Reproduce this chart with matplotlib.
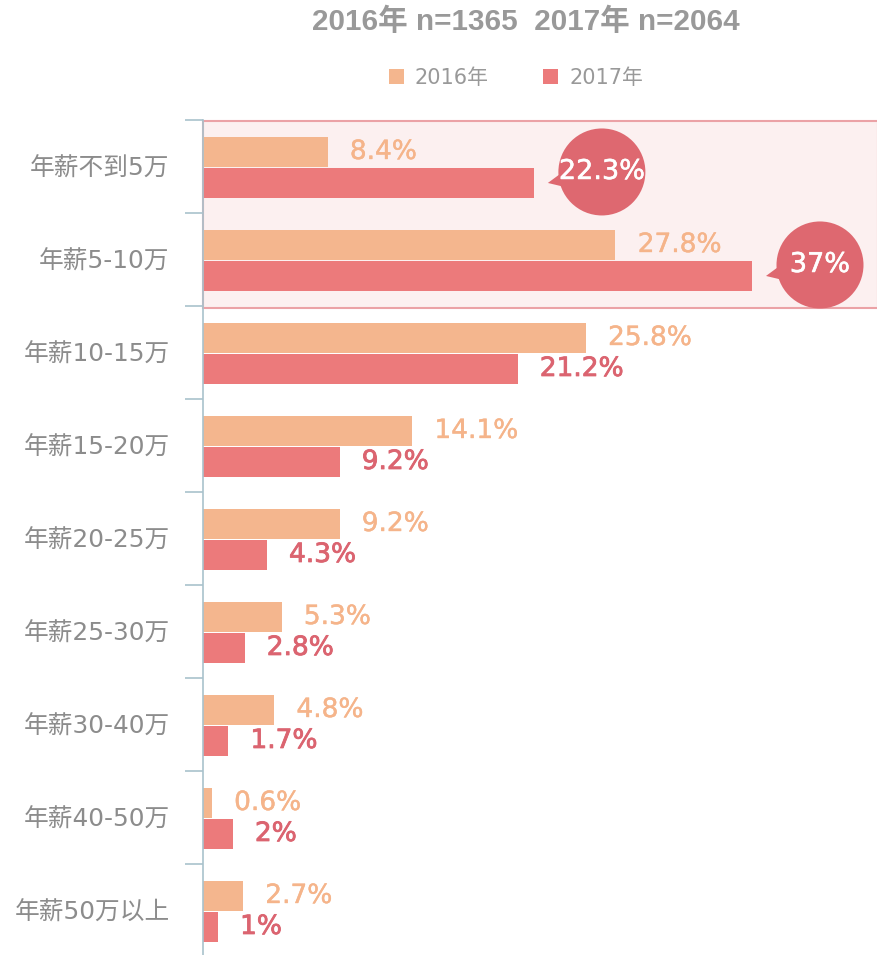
import numpy as np
import matplotlib
matplotlib.use("Agg")
import matplotlib.pyplot as plt
import matplotlib.patheffects as pe
from matplotlib.patches import Rectangle, Circle, Polygon
from matplotlib.transforms import IdentityTransform

plt.rcParams['font.family'] = ['DejaVu Sans', 'Noto Sans CJK SC']

categories = ['年薪不到5万', '年薪5-10万', '年薪10-15万', '年薪15-20万', '年薪20-25万',
              '年薪25-30万', '年薪30-40万', '年薪40-50万', '年薪50万以上']
v2016 = [8.4, 27.8, 25.8, 14.1, 9.2, 5.3, 4.8, 0.6, 2.7]
v2017 = [22.3, 37, 21.2, 9.2, 4.3, 2.8, 1.7, 2, 1]
labels2016 = ['8.4%', '27.8%', '25.8%', '14.1%', '9.2%', '5.3%', '4.8%', '0.6%', '2.7%']
labels2017 = ['22.3%', '37%', '21.2%', '9.2%', '4.3%', '2.8%', '1.7%', '2%', '1%']
bubble_idx = [0, 1]
highlight_cats = [0, 1]
series_names = ['2016年', '2017年']
title = '2016年 n=1365  2017年 n=2064'

c16 = '#F4B68E'
c17 = '#EC7A7B'
c16_txt = '#F5B48A'
c17_txt = '#DB6470'
bubble_c = '#DE6870'
axis_c = '#A9C2CC'
gray = '#8C8C8C'

W, H = 878, 955
fig = plt.figure(figsize=(W / 100, H / 100), dpi=100)
ax = fig.add_axes([203 / W, (955 - 957) / H, 675 / W, 837 / H])

n = len(categories)
y = np.arange(n)
xmax = 37 * 675 / 549
ax.set_xlim(0, xmax)
ax.set_ylim(n - 0.5, -0.5)

off1, off2 = -0.156, 0.177
bh = 0.33
b1 = ax.barh(y + off1, v2016, height=bh, color=c16, label=series_names[0], zorder=2)
b2 = ax.barh(y + off2, v2017, height=bh, color=c17, label=series_names[1], zorder=2)

# highlight region
h0, h1 = min(highlight_cats), max(highlight_cats)
rect = Rectangle((0, h0 - 0.49), xmax, h1 - h0 + 1.01, facecolor='#FCF0F0',
                 edgecolor='#EBA2A6', linewidth=1.5, zorder=0.5, clip_on=False)
ax.add_patch(rect)

# spines / ticks
for s in ['top', 'right', 'bottom']:
    ax.spines[s].set_visible(False)
ax.spines['left'].set_color(axis_c)
ax.spines['left'].set_linewidth(1.2)
ax.spines['left'].set_zorder(3)
ax.set_xticks([])
ax.set_yticks(y)
ax.set_yticklabels(categories, fontsize=17.8, color=gray)
ax.tick_params(axis='y', which='major', length=0, pad=24)
ax.set_yticks(np.arange(n + 1) - 0.5, minor=True)
ax.tick_params(axis='y', which='minor', length=13, color=axis_c, width=1.2)

# value labels
stroke17 = [pe.withStroke(linewidth=0.6, foreground=c17_txt)]
stroke16 = [pe.withStroke(linewidth=0.3, foreground=c16_txt)]
for i in range(n):
    ax.annotate(labels2016[i], xy=(v2016[i], y[i] + off1), xytext=(16, 0),
                textcoords='offset points', ha='left', va='center',
                fontsize=19, color=c16_txt, path_effects=stroke16)
    if i not in bubble_idx:
        ax.annotate(labels2017[i], xy=(v2017[i], y[i] + off2), xytext=(16, 0),
                    textcoords='offset points', ha='left', va='center',
                    fontsize=19, color=c17_txt, path_effects=stroke17)

# bubbles
r = 43.5
strokew = [pe.withStroke(linewidth=0.4, foreground='white')]
for i in bubble_idx:
    ex, ey = ax.transData.transform((v2017[i], y[i] + off2))
    cx, cy = ex + 68, ey + 11
    tip = np.array([ex + 14, ey])
    th = np.arctan2(tip[1] - cy, tip[0] - cx)
    pts = [tip]
    for d in (-0.2, 0.2):
        pts.append([cx + 0.9 * r * np.cos(th + d), cy + 0.9 * r * np.sin(th + d)])
    fig.add_artist(Polygon(pts, closed=True, facecolor=bubble_c, edgecolor='none',
                           transform=IdentityTransform(), zorder=4))
    fig.add_artist(Circle((cx, cy), r, facecolor=bubble_c, edgecolor='none',
                          transform=IdentityTransform(), zorder=4))
    fig.text(cx, cy, labels2017[i], transform=IdentityTransform(), ha='center',
             va='center', fontsize=19.5, color='white', zorder=5, path_effects=strokew)

# title & legend
fig.text(526 / W, 1 - 22 / H, title, ha='center', va='center', fontsize=21.3,
         fontweight='bold', color='#999999',
         family=['Liberation Sans', 'Noto Sans CJK SC'])
fig.legend(handles=[b1, b2], labels=series_names, loc='center',
           bbox_to_anchor=(516 / W, 1 - 78 / H), ncol=2, frameon=False,
           fontsize=15, labelcolor='#999999', handlelength=0.72,
           handleheight=0.72, handletextpad=0.55, columnspacing=2.6, borderpad=0)

fig.savefig('out.png', dpi=100)
